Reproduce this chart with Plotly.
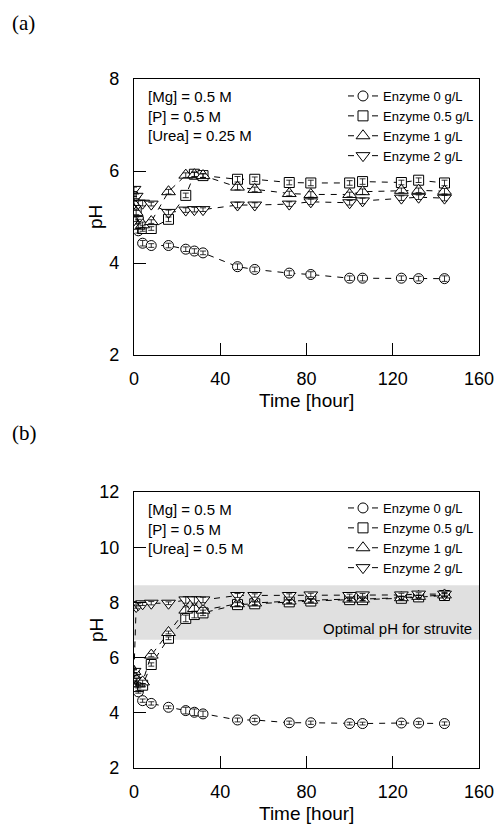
import plotly.graph_objects as go

# ---------------- data ----------------
time_h = [0, 1, 2, 4, 8, 16, 24, 28, 32, 48, 56, 72, 82, 100, 106, 124, 132, 144]

# panel (a): [Urea] = 0.25 M
a_enz0 = [5.30, 4.95, 4.70, 4.43, 4.38, 4.38, 4.30, 4.26, 4.22, 3.92, 3.86, 3.78, 3.75, 3.67, 3.67, 3.67, 3.66, 3.66]
a_enz05 = [5.40, 5.20, 4.90, 4.75, 4.75, 4.95, 5.47, 5.93, 5.90, 5.82, 5.82, 5.75, 5.74, 5.74, 5.77, 5.75, 5.80, 5.74]
a_enz1 = [5.50, 5.10, 4.80, 4.83, 4.90, 5.55, 5.91, 5.92, 5.90, 5.65, 5.60, 5.51, 5.49, 5.49, 5.55, 5.58, 5.58, 5.56]
a_enz2 = [5.60, 5.45, 5.30, 5.30, 5.28, 5.10, 5.15, 5.16, 5.16, 5.26, 5.26, 5.28, 5.33, 5.31, 5.35, 5.41, 5.43, 5.41]
a_err = [0.05, 0.05, 0.05, 0.06, 0.04, 0.05, 0.05, 0.05, 0.04, 0.06, 0.05, 0.05, 0.06, 0.05, 0.06, 0.05, 0.05, 0.06]

# panel (b): [Urea] = 0.5 M
b_enz0 = [5.30, 5.00, 4.76, 4.44, 4.34, 4.20, 4.08, 4.02, 3.96, 3.74, 3.74, 3.64, 3.64, 3.61, 3.61, 3.63, 3.63, 3.61]
b_enz05 = [5.40, 5.10, 4.95, 5.00, 5.75, 6.70, 7.42, 7.56, 7.62, 7.92, 7.95, 8.02, 8.05, 8.10, 8.10, 8.15, 8.20, 8.25]
b_enz1 = [5.50, 5.20, 5.05, 5.12, 6.09, 6.91, 7.72, 7.78, 7.72, 7.95, 7.98, 8.05, 8.08, 8.12, 8.12, 8.17, 8.22, 8.27]
b_enz2 = [5.50, 7.85, 7.92, 7.95, 7.97, 7.97, 8.09, 8.09, 8.09, 8.25, 8.25, 8.25, 8.27, 8.25, 8.27, 8.27, 8.30, 8.30]
b_err = [0.06, 0.06, 0.05, 0.06, 0.06, 0.05, 0.12, 0.12, 0.10, 0.07, 0.06, 0.06, 0.06, 0.05, 0.05, 0.06, 0.05, 0.06]

series_names = ["Enzyme 0 g/L", "Enzyme 0.5 g/L", "Enzyme 1 g/L", "Enzyme 2 g/L"]
series_symbols = ["circle", "square", "triangle-up", "triangle-down"]
series_sizes = [10, 10, 12, 12]

x_ticks = [0, 40, 80, 120, 160]
a_yticks = [2, 4, 6, 8]
b_yticks = [2, 4, 6, 8, 10, 12]
optimal_ph = [6.65, 8.62]

a_conditions = "[Mg] = 0.5 M<br>[P] = 0.5 M<br>[Urea] = 0.25 M"
b_conditions = "[Mg] = 0.5 M<br>[P] = 0.5 M<br>[Urea] = 0.5 M"

# ---------------- figure ----------------
W, H = 498, 830
FONT = "Liberation Sans, Arial, sans-serif"
fig = go.Figure()

panels = [
    ("x", "y", "legend", [a_enz0, a_enz05, a_enz1, a_enz2], a_err),
    ("x2", "y2", "legend2", [b_enz0, b_enz05, b_enz1, b_enz2], b_err),
]
for xa, ya, leg, ys, err in panels:
    # lines + white-filled markers
    for name, sym, sz, yv in zip(series_names, series_symbols, series_sizes, ys):
        fig.add_trace(go.Scatter(
            x=time_h, y=yv, name=name, mode="lines+markers",
            xaxis=xa, yaxis=ya, legend=leg,
            line=dict(color="black", width=1, dash="6px,6px"),
            marker=dict(symbol=sym, size=sz, color="white", line=dict(width=1, color="black")),
        ))
    # error bars drawn on top of the markers
    for name, yv in zip(series_names, ys):
        fig.add_trace(go.Scatter(
            x=time_h, y=yv, name=name, mode="markers", showlegend=False,
            xaxis=xa, yaxis=ya, legend=leg, hoverinfo="skip",
            marker=dict(size=1, color="rgba(0,0,0,0)"),
            error_y=dict(type="data", array=err, visible=True, color="black", thickness=0.8, width=3),
        ))

# plot-area geometry (pixels)
L, R = 134, 479
a_top, a_bot = 79, 355
b_top, b_bot = 492, 768

axis_common = dict(
    showgrid=False, zeroline=False, showline=True, linecolor="black", linewidth=1.3,
    mirror=True, ticks="inside", ticklen=12, tickwidth=1.2, tickcolor="black",
    tickfont=dict(family=FONT, size=18, color="black"), automargin=False,
)

legend_common = dict(x=1, xanchor="right", yanchor="top", xref="paper", yref="paper",
                     bgcolor="rgba(0,0,0,0)", font=dict(family=FONT, size=13, color="black"),
                     tracegroupgap=0, itemwidth=30)

fig.update_layout(
    width=W, height=H,
    margin=dict(l=L, r=W - R, t=0, b=0),
    paper_bgcolor="white", plot_bgcolor="white",
    showlegend=True,
    xaxis=dict(domain=[0, 1], range=[0, 160], tickvals=x_ticks, anchor="y",
               ticklabelstandoff=7, **axis_common),
    yaxis=dict(domain=[1 - a_bot / H, 1 - a_top / H], range=[2, 8], tickvals=a_yticks,
               anchor="x", ticklabelstandoff=10, **axis_common),
    xaxis2=dict(domain=[0, 1], range=[0, 160], tickvals=x_ticks, anchor="y2",
                ticklabelstandoff=7, **axis_common),
    yaxis2=dict(domain=[1 - b_bot / H, 1 - b_top / H], range=[2, 12], tickvals=b_yticks,
                anchor="x2", ticklabelstandoff=10, **axis_common),
    legend=dict(y=1 - 81 / H, **legend_common),
    legend2=dict(y=1 - 493 / H, **legend_common),
)

# optimal pH band in panel (b)
fig.add_shape(type="rect", xref="x2 domain", yref="y2", x0=0, x1=1,
              y0=optimal_ph[0], y1=optimal_ph[1], fillcolor="#e0e0e0",
              line=dict(width=0), layer="below")
fig.add_annotation(text="Optimal pH for struvite", xref="x2 domain", yref="y2",
                   x=0.985, y=7.05, xanchor="right", yanchor="middle", showarrow=False,
                   font=dict(family=FONT, size=15, color="black"))

# condition labels
for cond, yref in [(a_conditions, "y domain"), (b_conditions, "y2 domain")]:
    fig.add_annotation(text=cond, xref="x domain", yref=yref, x=0.035, y=0.975,
                       xanchor="left", yanchor="top", align="left", showarrow=False,
                       font=dict(family=FONT, size=15, color="black"))

# axis titles
for yref, xref in [("y domain", "x domain"), ("y2 domain", "x2 domain")]:
    fig.add_annotation(text="pH", xref="paper", yref=yref, x=(96 - L) / (R - L), y=0.5,
                       textangle=-90, showarrow=False, xanchor="center", yanchor="middle",
                       font=dict(family=FONT, size=19, color="black"))
    fig.add_annotation(text="Time [hour]", xref=xref, yref=yref, x=0.5, y=0, yshift=-45,
                       showarrow=False, xanchor="center", yanchor="middle",
                       font=dict(family=FONT, size=19, color="black"))

# panel labels
for lab, py in [("(a)", 23), ("(b)", 433)]:
    fig.add_annotation(text=lab, xref="paper", yref="paper", x=(10 - L) / (R - L), y=1 - py / H,
                       xanchor="left", yanchor="middle", showarrow=False,
                       font=dict(family="Liberation Serif, Times New Roman, serif", size=21, color="black"))

fig.write_html("out.html",
               config={"displayModeBar": False},
               post_script="document.body.style.margin='0px';document.body.style.overflow='hidden';")
